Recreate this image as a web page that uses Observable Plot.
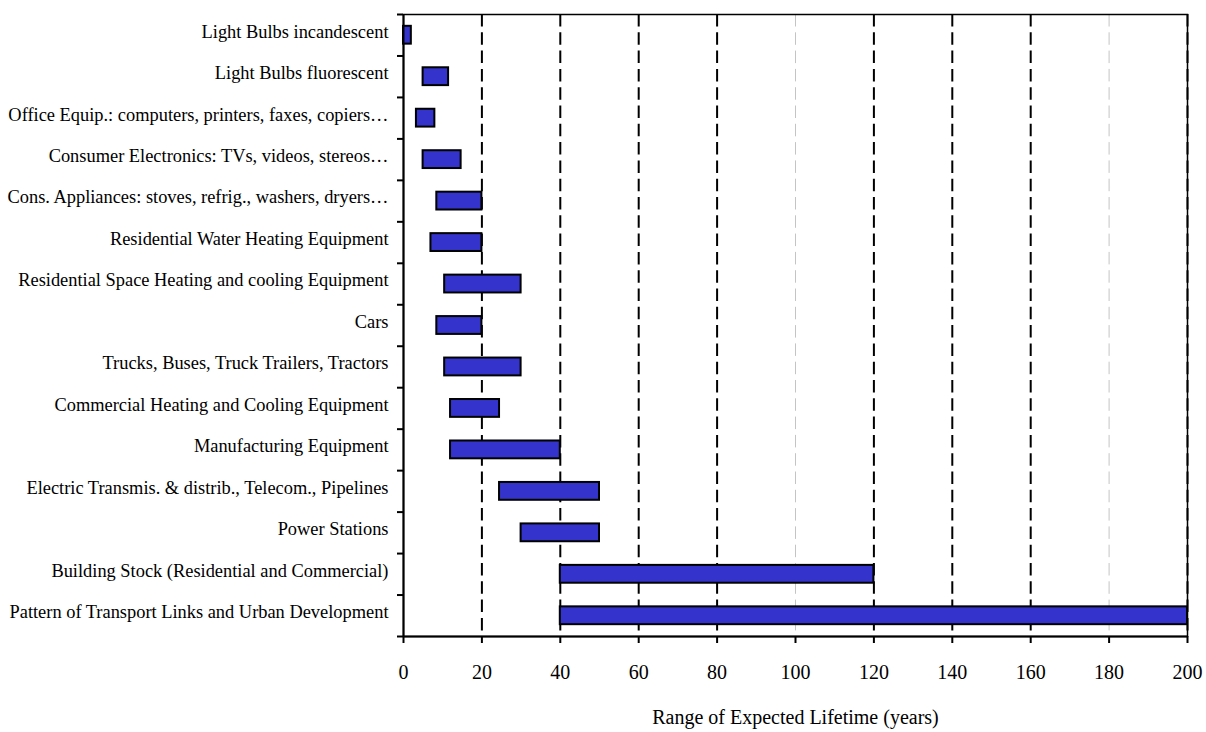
<!DOCTYPE html>
<html>
<head>
<meta charset="utf-8">
<script src="https://cdn.jsdelivr.net/npm/d3@7"></script>
<script src="https://cdn.jsdelivr.net/npm/@observablehq/plot@0.6"></script>
<style>
  html, body { margin: 0; padding: 0; background: #fff; }
  #chart svg { display: block; }
</style>
</head>
<body>
<div id="chart"></div>
<script>
const categories = [
  "Light Bulbs incandescent",
  "Light Bulbs fluorescent",
  "Office Equip.: computers, printers, faxes, copiers\u2026",
  "Consumer Electronics: TVs, videos, stereos\u2026",
  "Cons. Appliances: stoves, refrig., washers, dryers\u2026",
  "Residential Water Heating Equipment",
  "Residential Space Heating and cooling Equipment",
  "Cars",
  "Trucks, Buses, Truck Trailers, Tractors",
  "Commercial Heating and Cooling Equipment",
  "Manufacturing Equipment",
  "Electric Transmis. & distrib., Telecom., Pipelines",
  "Power Stations",
  "Building Stock (Residential and Commercial)",
  "Pattern of Transport Links and Urban Development"
];
const lifeMin = [0, 5, 3.3, 5, 8.5, 7, 10.5, 8.5, 10.5, 12, 12, 24.5, 30, 40, 40];
const lifeMax = [2, 11.5, 8, 14.7, 20, 20, 30, 20, 30, 24.5, 40, 50, 50, 120, 200];
const xTicks = [0, 20, 40, 60, 80, 100, 120, 140, 160, 180, 200];
const darkGrid = [20, 40, 60, 80, 120, 140, 160, 200];
const lightGrid = [100, 180];
const xTitle = "Range of Expected Lifetime (years)";

const rows = categories.map((name, i) => ({name, i, start: lifeMin[i], end: lifeMax[i]}));
const boundaries = d3.range(0, categories.length + 1);
const centers = d3.range(categories.length).map(i => i + 0.5);

const chart = Plot.plot({
  width: 1206,
  height: 732,
  marginLeft: 403,
  marginRight: 19,
  marginTop: 14,
  marginBottom: 96,
  style: {fontFamily: "'Liberation Serif', 'Times New Roman', serif", color: "#000", background: "#fff"},
  x: {domain: [0, 200]},
  y: {domain: [0, categories.length], reverse: true},
  marks: [
    Plot.ruleX(lightGrid, {stroke: "#c4c4c4", strokeWidth: 1, strokeDasharray: "12.5,5.8"}),
    Plot.ruleX(darkGrid, {stroke: "#000", strokeWidth: 2, strokeDasharray: "12.5,5.8"}),
    Plot.frame({stroke: "#000", strokeWidth: 1.5}),
    Plot.rect(rows, {
      x1: "start", x2: "end",
      y1: d => d.i + 0.285, y2: d => d.i + 0.715,
      fill: "#3434CC", stroke: "#000", strokeWidth: 2
    }),
    Plot.ruleX([0], {stroke: "#000", strokeWidth: 2}),
    Plot.ruleY([categories.length], {stroke: "#000", strokeWidth: 2}),
    Plot.axisY(boundaries, {tickSize: 6, strokeWidth: 2, tickFormat: () => "", label: null}),
    Plot.axisY(centers, {
      tickSize: 0, tickPadding: 15, fontSize: 18.4, dy: -3.5,
      tickFormat: v => categories[Math.floor(v)], label: null
    }),
    Plot.axisX(xTicks, {
      tickSize: 7, tickPadding: 21, strokeWidth: 2, fontSize: 20, label: null
    }),
    Plot.text([xTitle], {
      frameAnchor: "bottom", dy: 87, lineAnchor: "bottom", fontSize: 20, fill: "#000"
    })
  ]
});
document.getElementById("chart").appendChild(chart);
</script>
</body>
</html>
